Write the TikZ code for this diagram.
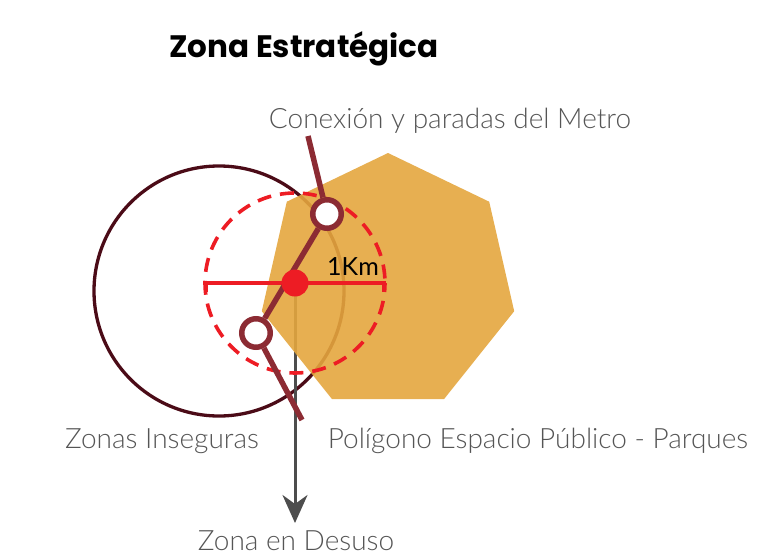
\documentclass[tikz,border=0pt]{standalone}
\usepackage{fontspec}
\usetikzlibrary{arrows.meta}
\newfontfamily\lightf{Lato Light}
\newfontfamily\regf{Lato}
\newfontfamily\titlef{Poppins}
\definecolor{metro}{HTML}{8C2B33}
\definecolor{darkring}{HTML}{4B0B17}
\definecolor{park}{HTML}{E4A63E}
\definecolor{redz}{HTML}{ED1C24}
\definecolor{arrowgray}{HTML}{4D4D4D}
\definecolor{labelgray}{HTML}{555555}
\tikzset{
  label/.style={font=\lightf\fontsize{28}{30}\selectfont, text=labelgray, inner sep=0pt, anchor=base},
  station/.style={circle, draw=metro, line width=5.5pt, fill=white, minimum size=28.5pt, inner sep=0pt},
  metroline/.style={draw=metro, line width=5.5pt},
}
\begin{document}
\begin{tikzpicture}[x=1pt,y=-1pt]
\useasboundingbox (0,0) rectangle (758,557);
% title
\node[font=\titlef\bfseries\fontsize{31}{33}\selectfont, inner sep=0pt, anchor=base] (title) at (304,57) {Zona Estratégica};
% key coordinates
\coordinate (c) at (295,283);
\coordinate (tip) at (295,523);
% dark circle (zonas inseguras)
\draw[darkring, line width=3.3pt] (219,291) circle[radius=125];
% gray arrow
\draw[arrowgray, line width=3pt, -{Stealth[length=28pt,width=25pt,inset=9pt]}] (c) -- (tip);
% heptagon (parque)
\fill[park, fill opacity=0.9] (388,153) -- (489.2,201.7) -- (514.2,311.2) -- (444.1,399) -- (331.9,399) -- (261.8,311.2) -- (286.8,201.7) -- cycle;
% red dashed circle
\draw[redz, line width=3.6pt, dash pattern=on 14pt off 9pt, dash phase=5pt] (c) circle[radius=90];
% 1 km radius bar
\draw[redz, line width=4pt] (206,292) -- (206,283) -- (384,283) -- (384,292);
% metro line
\node[station] (s1) at (327,214) {};
\node[station] (s2) at (256,333) {};
\coordinate (mtop) at (308,136);
\coordinate (mbot) at (302,420);
\draw[metroline] (mtop) -- (s1);
\draw[metroline] (s1) -- (s2);
\draw[metroline] (s2) -- (mbot);
% center dot
\node[circle, fill=redz, minimum size=27pt, inner sep=0pt] (dot) at (c) {};
\node[font=\regf\fontsize{25}{27}\selectfont, inner sep=0pt, anchor=base] (km) at (353,275) {1Km};
% labels
\node[label] (lmetro) at (450,128) {Conexión y paradas del Metro};
\node[label] (linseg) at (162,448) {Zonas Inseguras};
\node[label] (lparque) at (538,448) {Polígono Espacio Público - Parques};
\node[label] (ldesuso) at (296,550) {Zona en Desuso};
\end{tikzpicture}
\end{document}
